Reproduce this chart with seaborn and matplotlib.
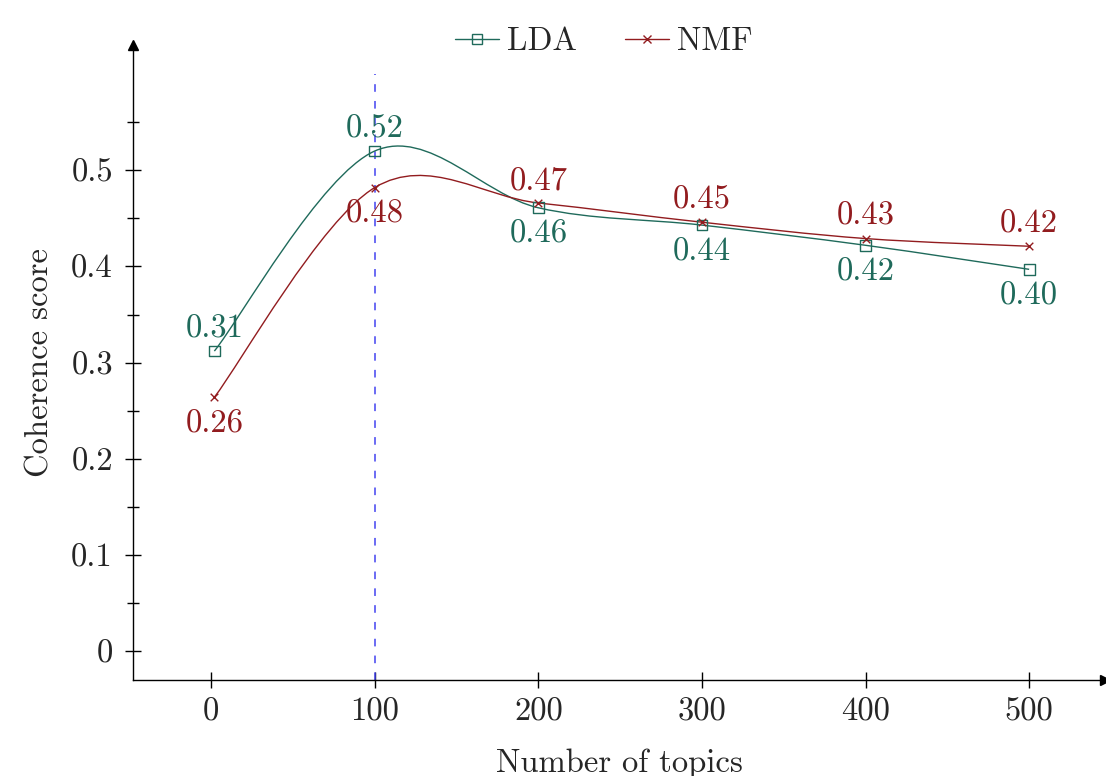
import numpy as np
import matplotlib
matplotlib.use("Agg")
import matplotlib.pyplot as plt
from matplotlib.path import Path
from matplotlib.patches import PathPatch
from matplotlib.lines import Line2D
from matplotlib.ticker import MultipleLocator
import seaborn as sns

# =========================
# data
# =========================
topics = [2, 100, 200, 300, 400, 500]
lda_scores = [0.312, 0.520, 0.461, 0.443, 0.422, 0.397]
nmf_scores = [0.264, 0.482, 0.466, 0.446, 0.429, 0.421]
lda_label_above = [True, True, False, False, False, False]
nmf_label_above = [False, False, True, True, True, True]
best_topics = 100
x_ticks = [0, 100, 200, 300, 400, 500]
y_ticks = [0, 0.1, 0.2, 0.3, 0.4, 0.5]

LDA_COLOR = "#1f6a5b"
NMF_COLOR = "#921c1f"
LINE_COLOR = "#4343f0"

sns.set_theme(style="white")
plt.rcParams["font.family"] = ["cmr10", "DejaVu Serif"]
plt.rcParams["mathtext.fontset"] = "cm"
plt.rcParams["axes.formatter.use_mathtext"] = True
FS = 23.5


def smooth_path(xs, ys, f=1.0 / 6.0):
    # catmull-rom style bezier through the points (like tikz "smooth")
    pts = np.column_stack([xs, ys]).astype(float)
    n = len(pts)
    verts = [pts[0]]
    codes = [Path.MOVETO]
    for i in range(n - 1):
        p0 = pts[i - 1] if i > 0 else pts[i]
        p1 = pts[i]
        p2 = pts[i + 1]
        p3 = pts[i + 2] if i + 2 < n else pts[i + 1]
        c1 = p1 + (p2 - p0) * f
        c2 = p2 - (p3 - p1) * f
        verts += [c1, c2, p2]
        codes += [Path.CURVE4] * 3
    return Path(verts, codes)


fig = plt.figure(figsize=(11.06, 7.76), dpi=100)
ax = fig.add_axes([0.1203, 0.1237, 0.879, 0.818])

ax.set_xlim(-47.7, 546.5)
ax.set_ylim(-0.03, 0.63)

# best number of topics
ax.plot([best_topics, best_topics], [-0.03, 0.6], color=LINE_COLOR,
        linestyle=(0, (5, 6)), linewidth=1.1, zorder=1)

for scores, color in [(lda_scores, LDA_COLOR), (nmf_scores, NMF_COLOR)]:
    ax.add_patch(PathPatch(smooth_path(topics, scores), facecolor="none",
                           edgecolor=color, linewidth=1.0, zorder=2))

sns.scatterplot(x=topics, y=lda_scores, marker="s", s=60, facecolor="none",
                edgecolor=LDA_COLOR, linewidth=1.0, ax=ax, zorder=3)
sns.scatterplot(x=topics, y=nmf_scores, marker="x", s=30, color=NMF_COLOR,
                linewidth=1.0, ax=ax, zorder=3)

for scores, above, color in [(lda_scores, lda_label_above, LDA_COLOR),
                             (nmf_scores, nmf_label_above, NMF_COLOR)]:
    for xv, yv, up in zip(topics, scores, above):
        ax.annotate(f"{yv:.2f}", (xv, yv), xytext=(0, 16 if up else -19),
                    textcoords="offset points", ha="center", va="center",
                    color=color, fontsize=FS)

# pgfplots-like axis lines
for side in ["top", "right"]:
    ax.spines[side].set_visible(False)
for side in ["left", "bottom"]:
    ax.spines[side].set_color("black")
    ax.spines[side].set_linewidth(1.0)
ax.plot(1, 0, marker=">", color="black", markersize=7, transform=ax.transAxes,
        clip_on=False)
ax.plot(0, 1, marker="^", color="black", markersize=7, transform=ax.transAxes,
        clip_on=False)

ax.set_xticks(x_ticks)
ax.set_yticks(y_ticks)
ax.set_xticklabels([str(v) for v in x_ticks])
ax.set_yticklabels(["0"] + [f"{v:.1f}" for v in y_ticks[1:]])
ax.yaxis.set_minor_locator(MultipleLocator(0.1, offset=0.05))
ax.tick_params(axis="both", which="major", direction="inout", length=11,
               width=1.0, color="black", labelsize=FS, left=True, bottom=True)
ax.tick_params(axis="y", which="major", pad=9)
ax.tick_params(axis="x", which="major", pad=7)
ax.tick_params(axis="y", which="minor", direction="inout", length=8,
               width=1.0, color="black", left=True)

ax.set_xlabel("Number of topics", fontsize=FS, labelpad=16)
ax.set_ylabel("Coherence score", fontsize=FS, labelpad=12)

handles = [
    Line2D([], [], color=LDA_COLOR, linewidth=1.0, marker="s", markersize=7,
           markerfacecolor="none", markeredgecolor=LDA_COLOR),
    Line2D([], [], color=NMF_COLOR, linewidth=1.0, marker="x", markersize=6),
]
fig.legend(handles, ["LDA", "NMF"], loc="center", bbox_to_anchor=(0.546, 0.946),
           ncol=2, frameon=False, fontsize=FS, handlelength=1.35,
           handletextpad=0.25, columnspacing=1.45)

fig.savefig("out.png", dpi=100)
